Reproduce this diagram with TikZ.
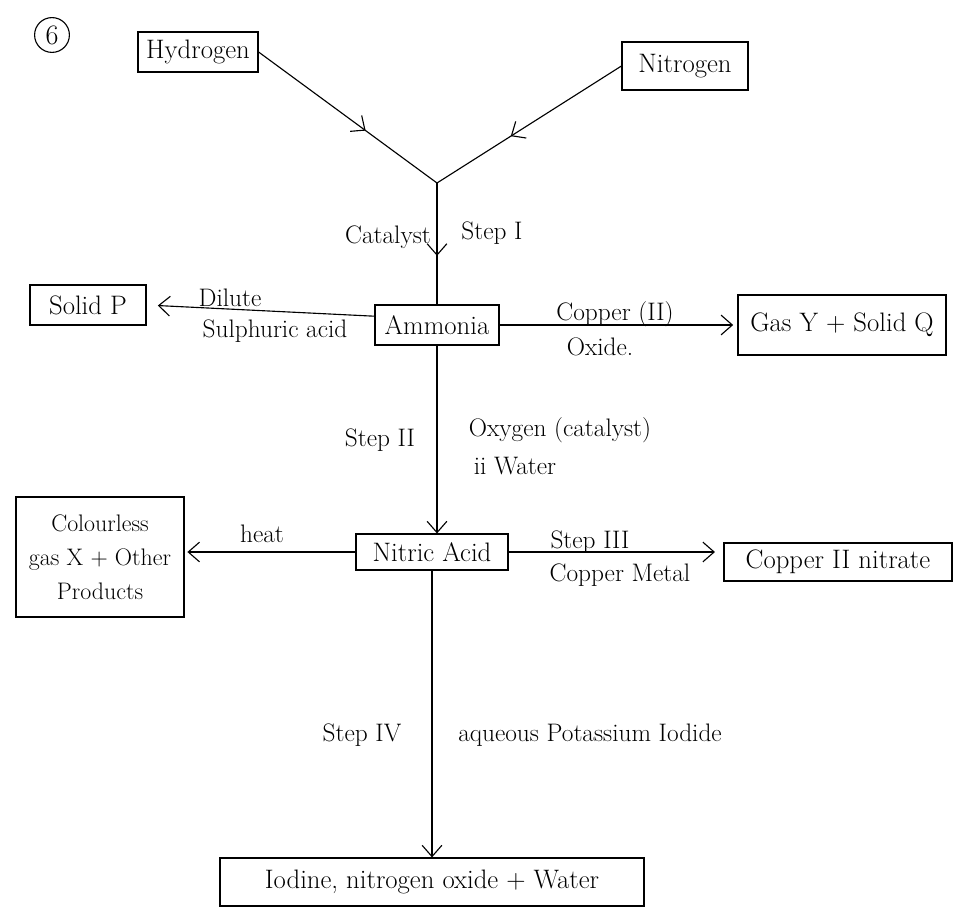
\documentclass[tikz,border=0pt]{standalone}
\usetikzlibrary{arrows.meta,decorations.markings}
\begin{document}
\begin{tikzpicture}[x=0.025cm,y=-0.025cm,
    box/.style={rectangle,draw,thick,inner sep=3pt,font=\fontsize{19}{22}\selectfont},
    lbl/.style={font=\fontsize{18}{21}\selectfont},
    flow/.style={thick,-{Straight Barb[length=8pt,width=14pt]}},
    midflow/.style={thick,postaction={decorate},
      decoration={markings,mark=at position 0.6 with {\arrow{Straight Barb[length=8pt,width=14pt]}}}}]
    \useasboundingbox (0,0) rectangle (955,919);
    \node[circle,draw,thick,inner sep=3pt,font=\fontsize{20}{24}\selectfont] (num) at (52,35) {6};
    % starting gases
    \node[box,minimum width=3cm,minimum height=1cm] (hyd) at (198,52) {Hydrogen};
    \node[box,minimum width=3.15cm,minimum height=1.2cm] (nit) at (685,66) {Nitrogen};
    \coordinate (join) at (437,183);
    \draw[midflow] (hyd.east) -- (join);
    \draw[midflow] (nit.west) -- (join);
    \node[box,minimum width=3.1cm,minimum height=1cm] (amm) at (437,325) {Ammonia};
    \draw[midflow] (join) -- (amm.north);
    \node[lbl] (cat) at (388,237) {Catalyst};
    \node[lbl] (st1) at (492,233) {Step I};
    % products of ammonia
    \node[box,minimum width=2.9cm,minimum height=1cm] (solp) at (88,305) {Solid P};
    \draw[flow,shorten >=8pt] (amm.172) -- (solp.east);
    \node[lbl] (dil) at (230,298) {Dilute};
    \node[lbl] (sulph) at (275,331) {Sulphuric acid};
    \node[box,minimum width=5.2cm,minimum height=1.5cm] (gasy) at (842,325) {Gas Y + Solid Q};
    \draw[flow,shorten >=3pt] (amm.east) -- (gasy.west);
    \node[lbl] (cuo) at (615,314) {Copper (II)};
    \node[lbl] (oxd) at (600,347) {Oxide.};
    \node[box,minimum width=3.8cm,minimum height=0.9cm] (nitric) at (432,552) {Nitric Acid};
    \draw[flow] (amm.south) -- (amm.south |- nitric.north);
    \node[lbl] (st2) at (380,440) {Step II};
    \node[lbl] (oxy) at (560,430) {Oxygen (catalyst)};
    \node[lbl] (wat) at (515,466) {ii Water};
    % products of nitric acid
    \node[box,minimum width=4.2cm,minimum height=3cm,align=center,
      font=\fontsize{17}{24}\selectfont] (gasx) at (100,557) {Colourless\\gas X + Other\\Products};
    \draw[flow,shorten >=2pt] (nitric.west) -- (nitric.west -| gasx.east);
    \node[lbl] (heat) at (262,534) {heat};
    \node[box,minimum width=5.7cm,minimum height=0.95cm] (cunit) at (838,562) {Copper II nitrate};
    \draw[flow,shorten >=6pt] (nitric.east) -- (nitric.east -| cunit.west);
    \node[lbl] (st3) at (590,542) {Step III};
    \node[lbl] (cum) at (620,575) {Copper Metal};
    \node[box,minimum width=10.6cm,minimum height=1.2cm] (prod) at (432,882) {Iodine, nitrogen oxide + Water};
    \draw[flow] (nitric.south) -- (prod.north);
    \node[lbl] (st4) at (362,735) {Step IV};
    \node[lbl] (ki) at (590,735) {aqueous Potassium Iodide};
\end{tikzpicture}
\end{document}
